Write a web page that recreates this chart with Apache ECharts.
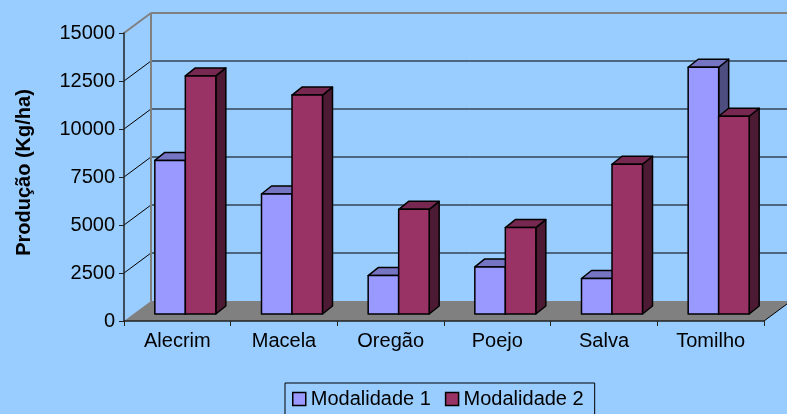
<!DOCTYPE html>
<html>
<head>
<meta charset="utf-8">
<script src="https://cdn.jsdelivr.net/npm/echarts@6/dist/echarts.min.js"></script>
<style>
  html, body { margin: 0; padding: 0; background: #99ccff; }
  #chart { width: 787px; height: 414px; }
</style>
</head>
<body>
<div id="chart"></div>
<script>
const categories = ['Alecrim', 'Macela', 'Oregão', 'Poejo', 'Salva', 'Tomilho']
const modalidade1 = [8000, 6250, 2000, 2450, 1850, 12850]
const modalidade2 = [12400, 11400, 5450, 4500, 7800, 10300]
const yTicks = [0, 2500, 5000, 7500, 10000, 12500, 15000]
const seriesNames = ['Modalidade 1', 'Modalidade 2']

// offsets used to fake the excel 3d look
const WALL_DX = 27, WALL_DY = -20
const BAR_SHIFT_X = 8, BAR_SHIFT_Y = -7
const BAR_W = 30.5, BAR_DX = 10, BAR_DY = -8

const FONT = '"Liberation Sans", Arial, sans-serif'

const colors = [
  { front: '#9999ff', top: '#7575c4', side: '#4d4d80' },
  { front: '#993366', top: '#772850', side: '#4d1a33' }
]

// back wall, side wall and floor
function renderWalls(params, api) {
  const cs = params.coordSys
  const left = cs.x
  const right = cs.x + cs.width
  const bottom = cs.y + cs.height
  const children = []
  const maxTick = yTicks[yTicks.length - 1]

  yTicks.forEach((t) => {
    if (t === 0) return
    const y = api.coord([0, t])[1]
    const isTop = t === maxTick
    const stroke = isTop ? { stroke: '#808080', lineWidth: 2 } : { stroke: '#000', lineWidth: 1 }
    // grid line on back wall
    children.push({
      type: 'line',
      shape: { x1: left + WALL_DX, y1: y + WALL_DY, x2: right + WALL_DX, y2: y + WALL_DY },
      style: stroke
    })
    // diagonal on side wall
    children.push({
      type: 'line',
      shape: { x1: left, y1: y, x2: left + WALL_DX, y2: y + WALL_DY },
      style: stroke
    })
  })

  // back wall left edge
  children.push({
    type: 'line',
    shape: { x1: left + WALL_DX, y1: api.coord([0, maxTick])[1] + WALL_DY, x2: left + WALL_DX, y2: bottom + WALL_DY },
    style: { stroke: '#808080', lineWidth: 2 }
  })

  // floor
  children.push({
    type: 'polygon',
    shape: { points: [[left, bottom], [right, bottom], [right + WALL_DX, bottom + WALL_DY], [left + WALL_DX, bottom + WALL_DY]] },
    style: { fill: '#808080' }
  })
  children.push({
    type: 'line',
    shape: { x1: right, y1: bottom, x2: right + WALL_DX, y2: bottom + WALL_DY },
    style: { stroke: '#000', lineWidth: 1 }
  })

  return { type: 'group', children: children }
}

function makeBarRenderer(k) {
  return function (params, api) {
    const cat = api.value(0)
    const base = api.coord([cat, 0])
    const top = api.coord([cat, api.value(1)])
    const cx = base[0] + BAR_SHIFT_X
    const l = k === 0 ? cx - BAR_W : cx
    const r = l + BAR_W
    const by = base[1] + BAR_SHIFT_Y
    const ty = top[1] + BAR_SHIFT_Y
    const c = colors[k]
    const edge = { stroke: '#000', lineWidth: 1.5, lineJoin: 'round' }
    return {
      type: 'group',
      children: [
        {
          type: 'polygon',
          shape: { points: [[r, ty], [r + BAR_DX, ty + BAR_DY], [r + BAR_DX, by + BAR_DY], [r, by]] },
          style: Object.assign({ fill: c.side }, edge)
        },
        {
          type: 'polygon',
          shape: { points: [[l, ty], [r, ty], [r + BAR_DX, ty + BAR_DY], [l + BAR_DX, ty + BAR_DY]] },
          style: Object.assign({ fill: c.top }, edge)
        },
        {
          type: 'rect',
          shape: { x: l, y: ty, width: BAR_W, height: by - ty },
          style: Object.assign({ fill: c.front }, edge)
        }
      ]
    }
  }
}

const chart = echarts.init(document.getElementById('chart'), null, { renderer: 'canvas' })

const option = {
  backgroundColor: '#99ccff',
  animation: false,
  textStyle: { fontFamily: FONT },
  grid: {
    left: 124,
    right: 23,
    top: 33,
    bottom: 93,
    outerBoundsMode: 'none'
  },
  legend: {
    left: 285,
    top: 383,
    padding: [6, 11, 8, 7],
    itemGap: 14,
    itemWidth: 13,
    itemHeight: 13,
    borderColor: '#000',
    borderWidth: 1,
    textStyle: { fontSize: 20, color: '#000', fontFamily: FONT },
    data: seriesNames.map((n, k) => ({
      name: n,
      icon: 'rect',
      itemStyle: { color: colors[k].front, borderColor: '#000', borderWidth: 1.5 }
    }))
  },
  xAxis: {
    type: 'category',
    data: categories,
    z: 10,
    axisLine: { lineStyle: { color: '#222', width: 1.5 } },
    axisTick: { show: true, length: 5, lineStyle: { color: '#222' } },
    axisLabel: { fontSize: 20, color: '#000', margin: 10, fontFamily: FONT },
    splitLine: { show: false }
  },
  yAxis: {
    type: 'value',
    min: yTicks[0],
    max: yTicks[yTicks.length - 1],
    interval: yTicks[1] - yTicks[0],
    z: 10,
    name: 'Produção (Kg/ha)',
    nameLocation: 'middle',
    nameGap: 90,
    nameTextStyle: { fontSize: 20, fontWeight: 'bold', color: '#000', fontFamily: FONT, padding: [0, 0, 0, 9] },
    axisLine: { show: true, lineStyle: { color: '#222', width: 1.5 } },
    axisTick: { show: true, length: 5, lineStyle: { color: '#222' } },
    axisLabel: { fontSize: 20, color: '#000', margin: 9, fontFamily: FONT, formatter: (v) => String(v) },
    splitLine: { show: false }
  },
  series: [
    {
      type: 'custom',
      name: 'walls',
      z: 1,
      silent: true,
      clip: false,
      renderItem: renderWalls,
      data: [[0, 0]]
    },
    {
      type: 'custom',
      name: seriesNames[0],
      z: 3,
      clip: false,
      renderItem: makeBarRenderer(0),
      itemStyle: { color: colors[0].front },
      encode: { x: 0, y: 1 },
      data: modalidade1.map((v, i) => [i, v])
    },
    {
      type: 'custom',
      name: seriesNames[1],
      z: 4,
      clip: false,
      renderItem: makeBarRenderer(1),
      itemStyle: { color: colors[1].front },
      encode: { x: 0, y: 1 },
      data: modalidade2.map((v, i) => [i, v])
    }
  ]
}

chart.setOption(option)
</script>
</body>
</html>
